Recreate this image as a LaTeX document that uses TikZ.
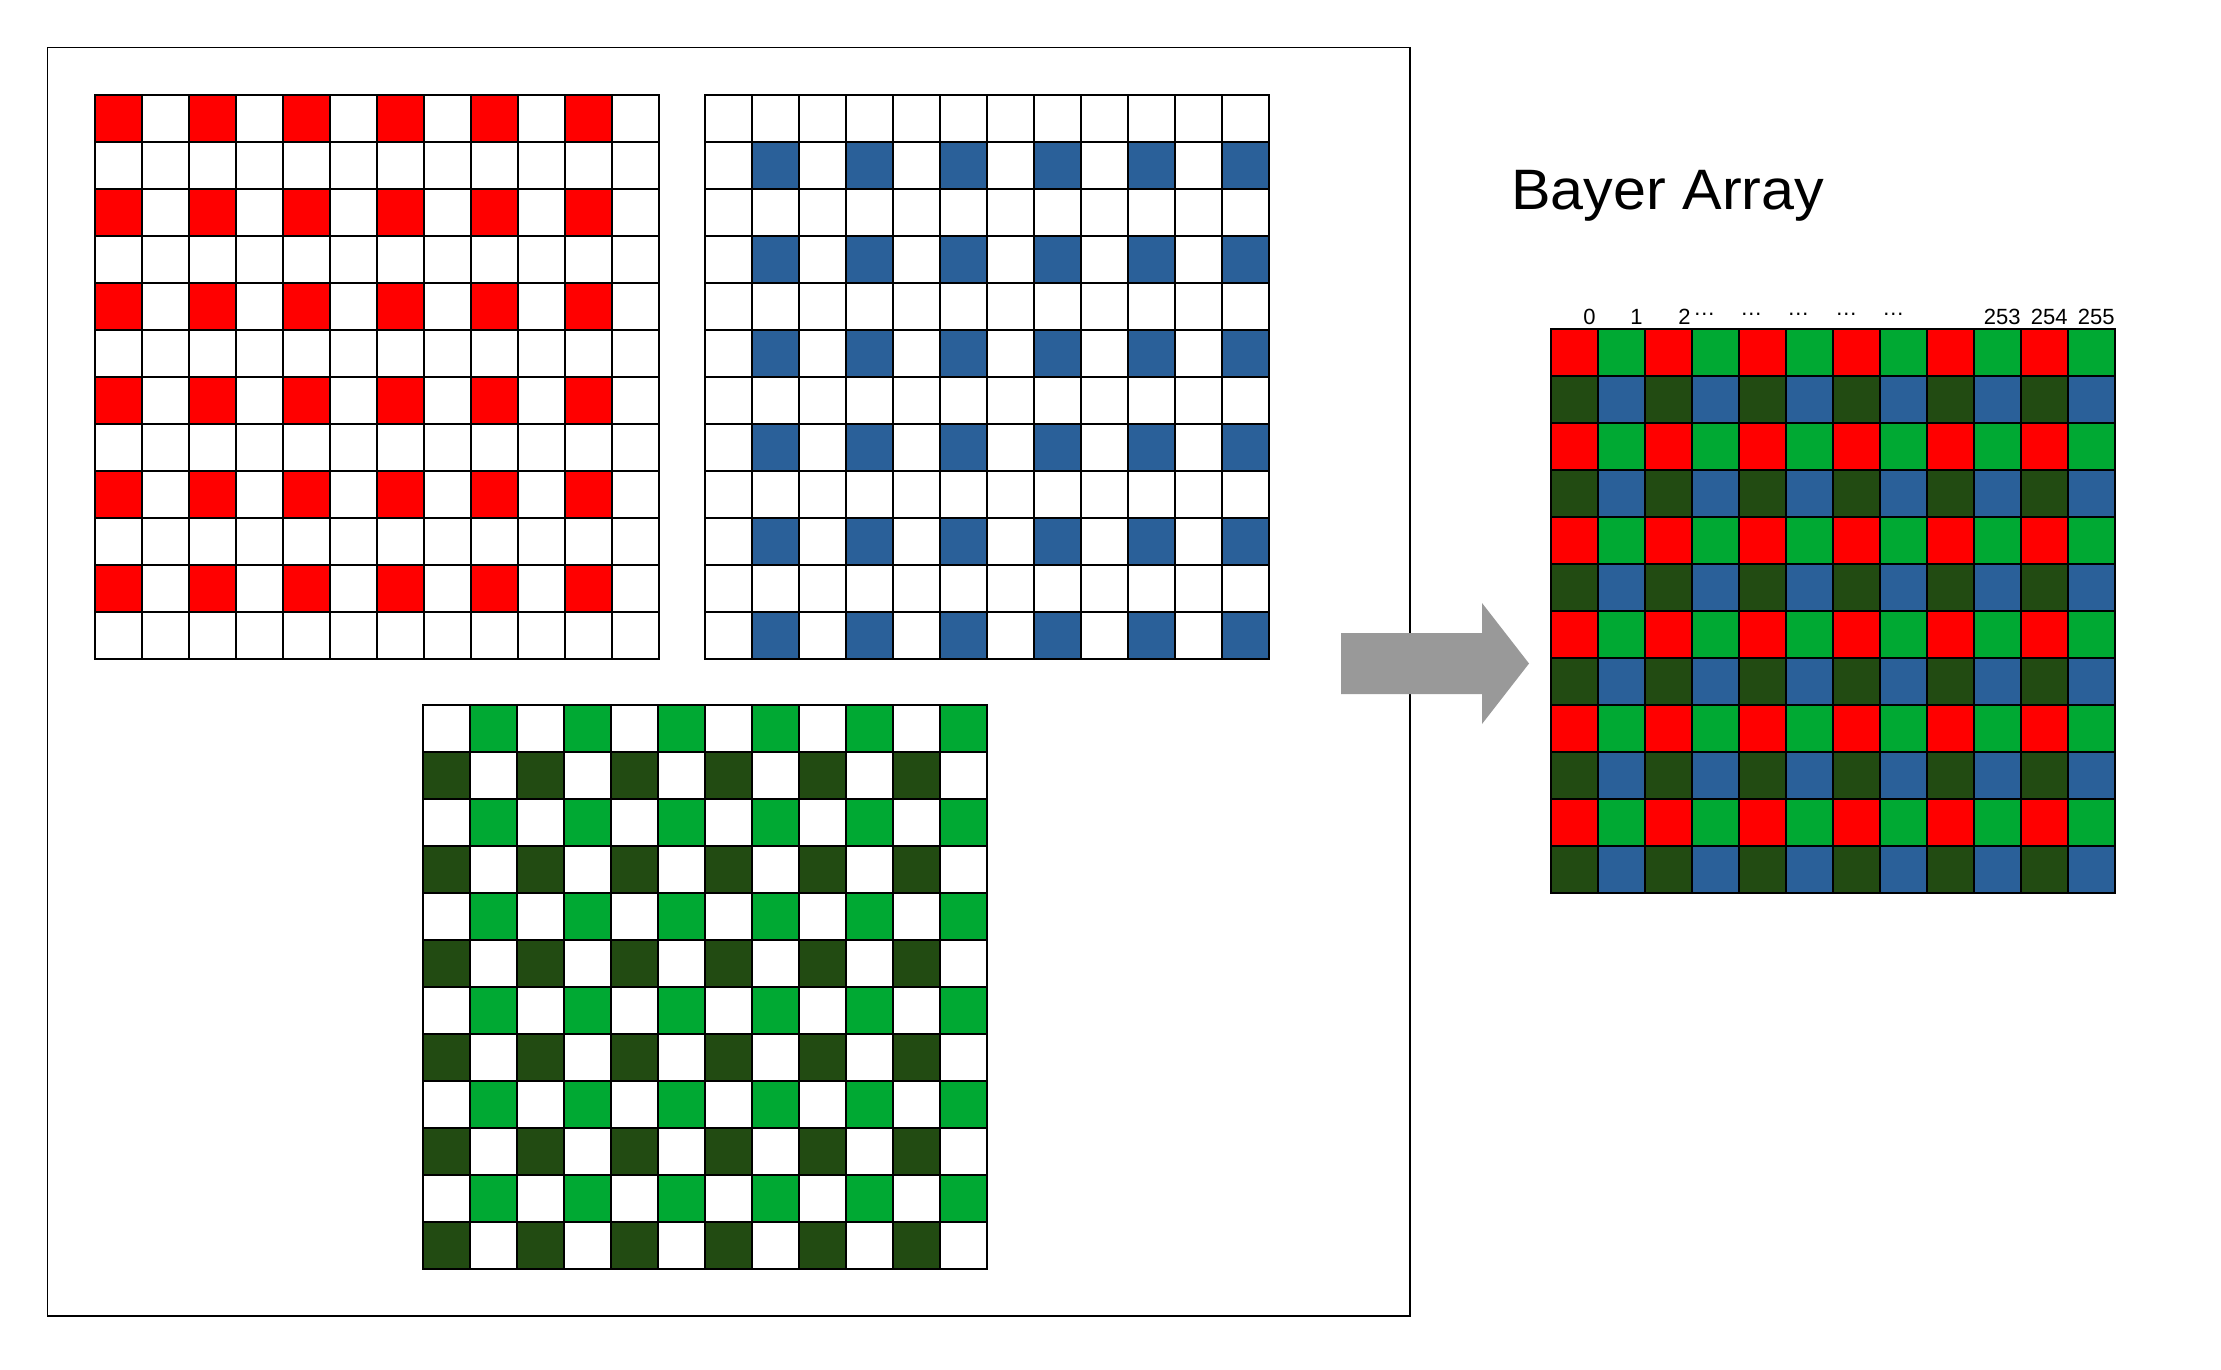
\documentclass[tikz,border=0pt]{standalone}
\usepackage{fontspec}
\setmainfont{Liberation Sans}
\definecolor{bred}{HTML}{FF0000}
\definecolor{bgreen}{HTML}{00A933}
\definecolor{bdark}{HTML}{224B12}
\definecolor{bblue}{HTML}{2A6099}
\definecolor{agray}{HTML}{999999}
\newcommand\cellgrid[2]{%
  \foreach \k in {0,...,12} {
    \draw[gridline] ({#1+47*\k},#2) -- ++(0,564);
    \draw[gridline] (#1,{#2+47*\k}) -- ++(564,0);
  }}
\newcommand\middots{\raisebox{0.37em}{…}}
\begin{document}
\begin{tikzpicture}[x=0.5pt,y=-0.5pt,
  gridline/.style={black,line width=0.6pt,line cap=rect},
  lbl/.style={anchor=base east,inner sep=0pt,font=\fontsize{11}{13}\selectfont},
  dots/.style={anchor=base west,inner sep=0pt,font=\fontsize{11}{13}\selectfont}]
\useasboundingbox (0,0) rectangle (2221,1370);
\fill[white] (0,0) rectangle (2221,1370);
% frame
\draw[black,line width=0.6pt] (47.5,47.5) rectangle (1410,1316);
% red grid
\foreach \r in {0,2,...,10} \foreach \c in {0,2,...,10}
  \fill[bred] ({95+47*\c},{95+47*\r}) rectangle +(47,47);
\cellgrid{95}{95}
% blue grid
\foreach \r in {1,3,...,11} \foreach \c in {1,3,...,11}
  \fill[bblue] ({705+47*\c},{95+47*\r}) rectangle +(47,47);
\cellgrid{705}{95}
% green grid
\foreach \r in {0,2,...,10} \foreach \c in {1,3,...,11}
  \fill[bgreen] ({423+47*\c},{705+47*\r}) rectangle +(47,47);
\foreach \r in {1,3,...,11} \foreach \c in {0,2,...,10}
  \fill[bdark] ({423+47*\c},{705+47*\r}) rectangle +(47,47);
\cellgrid{423}{705}
% arrow
\fill[agray] (1341,633) -- (1482,633) -- (1482,603) -- (1529,663.5) -- (1482,724) -- (1482,694) -- (1341,694) -- cycle;
% bayer grid
\foreach \r in {0,2,...,10} {
  \foreach \c in {0,2,...,10}
    \fill[bred] ({1551+47*\c},{329+47*\r}) rectangle +(47,47);
  \foreach \c in {1,3,...,11}
    \fill[bgreen] ({1551+47*\c},{329+47*\r}) rectangle +(47,47);
}
\foreach \r in {1,3,...,11} {
  \foreach \c in {0,2,...,10}
    \fill[bdark] ({1551+47*\c},{329+47*\r}) rectangle +(47,47);
  \foreach \c in {1,3,...,11}
    \fill[bblue] ({1551+47*\c},{329+47*\r}) rectangle +(47,47);
}
\cellgrid{1551}{329}
% title
\node[anchor=base west,inner sep=0pt,xscale=1.04,font=\fontsize{28.5}{34}\selectfont] (title) at (1511,209) {Bayer Array};
% column labels
\node[lbl] (l0) at (1596,324) {0};
\node[lbl] (l1) at (1643,324) {1};
\node[lbl] (l2) at (1691,324) {2};
\node[lbl] (l253) at (2021,324) {253};
\node[lbl] (l254) at (2068,324) {254};
\node[lbl] (l255) at (2115,324) {255};
\node[dots] (d1) at (1693,324) {\middots};
\node[dots] (d2) at (1740,324) {\middots};
\node[dots] (d3) at (1787,324) {\middots};
\node[dots] (d4) at (1835,324) {\middots};
\node[dots] (d5) at (1882,324) {\middots};
\end{tikzpicture}
\end{document}
